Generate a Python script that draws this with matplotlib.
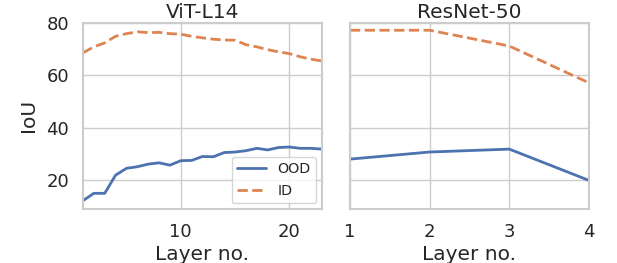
import matplotlib
matplotlib.use("Agg")
import matplotlib.pyplot as plt
import seaborn as sns

# ViT-L14 layer-wise IoU
vit_layers = list(range(1, 24))
vit_ood = [12.3, 15.1, 15.1, 22.0, 24.6, 25.2, 26.2, 26.7, 25.8, 27.5, 27.6, 29.1,
           29.0, 30.6, 30.8, 31.3, 32.2, 31.6, 32.5, 32.7, 32.2, 32.2, 31.9]
vit_id = [68.5, 70.8, 72.3, 74.8, 75.8, 76.5, 76.2, 76.3, 75.8, 75.6, 74.8, 74.2,
          73.7, 73.4, 73.3, 71.6, 70.8, 69.7, 68.9, 68.2, 67.0, 66.1, 65.4]

# ResNet-50 layer-wise IoU
res_layers = [1, 2, 3, 4]
res_ood = [28.1, 30.8, 31.9, 20.0]
res_id = [77.1, 77.1, 71.1, 57.1]

sns.set_theme(style="whitegrid")
plt.rcParams['font.family'] = ['DejaVu Sans']

fig, (ax1, ax2) = plt.subplots(1, 2, figsize=(6.17, 2.63), dpi=100, sharey=True)
fig.subplots_adjust(left=0.1345, right=0.9546, top=0.914, bottom=0.205, wspace=0.117)

c_ood, c_id = sns.color_palette("deep")[0], sns.color_palette("deep")[1]

ax1.plot(vit_layers, vit_ood, color=c_ood, lw=2, label="OOD")
ax1.plot(vit_layers, vit_id, color=c_id, lw=2, ls="--", label="ID")
ax1.set_xlim(1, 23)
ax1.set_xticks([10, 20])
ax1.set_title("ViT-L14", fontsize=14.5, pad=3)
ax1.set_ylabel("IoU", fontsize=14.5, labelpad=6)
ax1.set_xlabel("Layer no.", fontsize=14.5, labelpad=3)
ax1.legend(loc="lower right", fontsize=10.3, borderaxespad=0.4)

ax2.plot(res_layers, res_ood, color=c_ood, lw=2)
ax2.plot(res_layers, res_id, color=c_id, lw=2, ls="--")
ax2.set_xlim(1, 4)
ax2.set_xticks([1, 2, 3, 4])
ax2.set_title("ResNet-50", fontsize=14.5, pad=3)
ax2.set_xlabel("Layer no.", fontsize=14.5, labelpad=3)

ax1.set_ylim(9.1, 80)
ax1.set_yticks([20, 40, 60, 80])

for ax in (ax1, ax2):
    ax.tick_params(labelsize=13, pad=4)
    for s in ax.spines.values():
        s.set_color("#cccccc")
        s.set_linewidth(1.5)

fig.savefig("out.png", dpi=100)
